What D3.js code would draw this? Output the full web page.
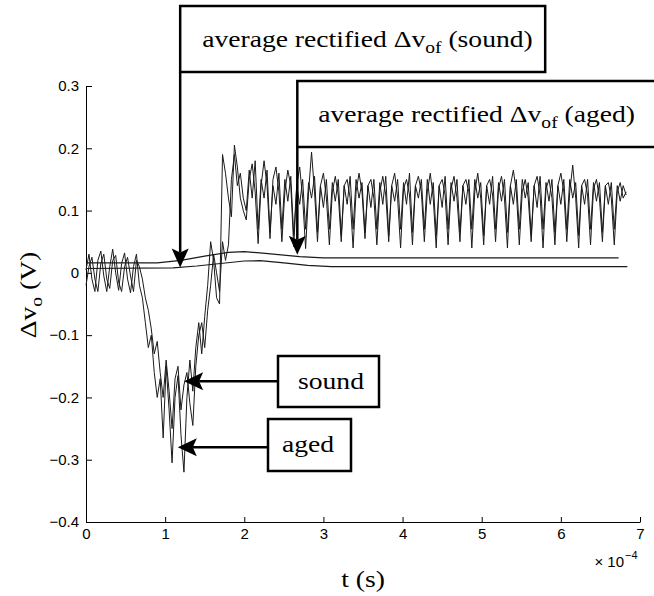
<!DOCTYPE html>
<html>
<head>
<meta charset="utf-8">
<script src="https://cdn.jsdelivr.net/npm/d3@7"></script>
<style>
  body { margin: 0; background: #fff; }
  svg { display: block; }
</style>
</head>
<body>
<div id="root"></div>
<script>
// time axis is in units of 1e-4 s, samples are evenly spaced
const sampleStep = 0.0375;

const xTicks = [0, 1, 2, 3, 4, 5, 6, 7];
const yTicks = [-0.4, -0.3, -0.2, -0.1, 0, 0.1, 0.2, 0.3];

// dv_o of the aged sample (V)
const agedSignal = [
  0.005, 0.03, -0.01, -0.03, 0.02, 0.035, -0.005, -0.03, 0.01, 0.038, 0.0, -0.028,
  0.015, 0.032, -0.01, -0.032, 0.01, 0.03, -0.02,
  -0.04, -0.08, -0.12, -0.10, -0.16, -0.20, -0.17, -0.265, -0.15, -0.22, -0.305, -0.20,
  -0.165, -0.26, -0.32, -0.2, -0.14, -0.19, -0.12, -0.08, -0.13, -0.07, -0.02, 0.05,
  0.02, -0.04, -0.05, 0.19, 0.16, 0.12, 0.09, 0.205, 0.17, 0.12, 0.10,
  0.085, 0.15, 0.175, 0.13,
  0.047, 0.14, 0.18, 0.14,
  0.055, 0.15, 0.17, 0.13,
  0.05, 0.13, 0.165, 0.14,
  0.042, 0.14, 0.17, 0.12,
  0.039, 0.13, 0.194, 0.13,
  0.05, 0.14, 0.16, 0.12,
  0.045, 0.13, 0.155, 0.125,
  0.05, 0.14, 0.15, 0.12,
  0.04, 0.13, 0.16, 0.13,
  0.055, 0.14, 0.15, 0.12,
  0.045, 0.13, 0.155, 0.125,
  0.05, 0.14, 0.16, 0.12,
  0.04, 0.135, 0.15, 0.125,
  0.045, 0.14, 0.155, 0.13,
  0.05, 0.13, 0.16, 0.12,
  0.04, 0.14, 0.15, 0.125,
  0.045, 0.135, 0.155, 0.12,
  0.05, 0.14, 0.15, 0.13,
  0.04, 0.13, 0.16, 0.12,
  0.045, 0.14, 0.15, 0.125,
  0.05, 0.135, 0.155, 0.12,
  0.04, 0.14, 0.165, 0.13,
  0.045, 0.13, 0.15, 0.12,
  0.05, 0.14, 0.155, 0.125,
  0.04, 0.135, 0.15, 0.12,
  0.045, 0.14, 0.16, 0.13,
  0.05, 0.13, 0.173, 0.12,
  0.04, 0.14, 0.15, 0.125,
  0.045, 0.135, 0.15, 0.12,
  0.05, 0.14, 0.145, 0.12,
  0.045, 0.13, 0.145, 0.12,
  0.13
];

// dv_o of the sound sample (V)
const soundSignal = [
  -0.02, 0.01, 0.025, -0.01, -0.03, 0.015, 0.03, -0.01, -0.025, 0.02, 0.028, -0.015,
  -0.03, 0.01, 0.025, -0.005, -0.03, 0.02, 0.01,
  -0.01, -0.04, -0.06, -0.09, -0.13, -0.11, -0.16, -0.20, -0.14, -0.19, -0.25, -0.17,
  -0.15, -0.22, -0.18, -0.16, -0.21, -0.245, -0.15, -0.10, -0.08, -0.12, -0.06, -0.02,
  0.03, 0.0, -0.03, 0.05, 0.02, 0.045, 0.15, 0.19, 0.14, 0.16, 0.12,
  0.10, 0.165, 0.12, 0.18,
  0.07, 0.15, 0.12, 0.165,
  0.065, 0.14, 0.11, 0.16,
  0.07, 0.15, 0.115, 0.155,
  0.06, 0.14, 0.11, 0.15,
  0.07, 0.145, 0.12, 0.155,
  0.065, 0.14, 0.105, 0.15,
  0.07, 0.145, 0.115, 0.15,
  0.06, 0.14, 0.11, 0.155,
  0.07, 0.15, 0.12, 0.145,
  0.065, 0.14, 0.105, 0.15,
  0.07, 0.145, 0.11, 0.155,
  0.06, 0.14, 0.115, 0.15,
  0.07, 0.145, 0.11, 0.16,
  0.065, 0.14, 0.12, 0.15,
  0.07, 0.15, 0.11, 0.145,
  0.06, 0.14, 0.105, 0.155,
  0.07, 0.145, 0.115, 0.15,
  0.065, 0.14, 0.11, 0.15,
  0.07, 0.15, 0.12, 0.145,
  0.06, 0.14, 0.11, 0.155,
  0.07, 0.145, 0.115, 0.15,
  0.065, 0.14, 0.11, 0.15,
  0.07, 0.15, 0.12, 0.145,
  0.06, 0.14, 0.105, 0.155,
  0.07, 0.145, 0.115, 0.15,
  0.065, 0.14, 0.11, 0.15,
  0.07, 0.15, 0.12, 0.145,
  0.06, 0.14, 0.11, 0.15,
  0.07, 0.145, 0.115, 0.145,
  0.065, 0.14, 0.11, 0.145,
  0.07, 0.14, 0.115, 0.14,
  0.125
];

// average rectified dv_of
const agedAvgT = [0, 0.9, 1.2, 1.5, 1.8, 2.0, 2.3, 2.7, 3.0, 6.73];
const agedAvg = [0.016, 0.016, 0.02, 0.027, 0.033, 0.034, 0.031, 0.026, 0.024, 0.024];
const soundAvgT = [0, 1.1, 1.4, 1.7, 2.0, 2.2, 2.5, 2.8, 3.1, 6.84];
const soundAvg = [0.007, 0.008, 0.011, 0.015, 0.019, 0.0195, 0.016, 0.012, 0.010, 0.010];

// where the annotation arrows point (t, value)
const soundAvgTip = [1.19, 0.0085];
const agedAvgTip = [2.67, 0.029];
const soundTip = [1.24, -0.174];
const agedTip = [1.16, -0.28];

const width = 654, height = 596;

const x = d3.scaleLinear().domain([0, 7]).range([86, 640]);
const y = d3.scaleLinear().domain([-0.4, 0.3]).range([522, 86]);

const svg = d3.select("#root").append("svg")
  .attr("width", width)
  .attr("height", height);

const tickFont = "'Liberation Sans', Arial, Helvetica, sans-serif";
const serif = "'Liberation Serif', 'Times New Roman', Times, serif";
const stretch = 1.15;

// axes
svg.append("g")
  .attr("transform", "translate(" + x(0) + ",0)")
  .call(d3.axisLeft(y)
    .tickValues(yTicks)
    .tickSizeInner(-6)
    .tickSizeOuter(0)
    .tickPadding(7)
    .tickFormat(d => d === 0 ? "0" : d3.format(".1f")(d)));

svg.append("g")
  .attr("transform", "translate(0," + y(-0.4) + ")")
  .call(d3.axisBottom(x)
    .tickValues(xTicks)
    .tickSizeInner(-5)
    .tickSizeOuter(0)
    .tickPadding(6)
    .tickFormat(d3.format("d")));

svg.selectAll(".tick text")
  .attr("font-family", tickFont)
  .attr("font-size", 15)
  .attr("fill", "#000");
svg.selectAll(".domain, .tick line").attr("stroke", "#000");

// exponent label
svg.append("text")
  .attr("x", 624)
  .attr("y", 567)
  .attr("text-anchor", "end")
  .attr("font-family", tickFont)
  .attr("font-size", 15)
  .text("\u00d7 10");
svg.append("text")
  .attr("x", 625)
  .attr("y", 559)
  .attr("font-family", tickFont)
  .attr("font-size", 11)
  .text("\u22124");

// signals
const sigLine = d3.line()
  .x((d, i) => x(i * sampleStep))
  .y(d => y(d));

[agedSignal, soundSignal].forEach(s => {
  svg.append("path")
    .attr("d", sigLine(s))
    .attr("fill", "none")
    .attr("stroke", "#1a1a1a")
    .attr("stroke-width", 1);
});

const avgLine = d3.line()
  .x(d => x(d[0]))
  .y(d => y(d[1]));

[[agedAvgT, agedAvg], [soundAvgT, soundAvg]].forEach(([ts, vs]) => {
  svg.append("path")
    .attr("d", avgLine(ts.map((t, i) => [t, vs[i]])))
    .attr("fill", "none")
    .attr("stroke", "#1a1a1a")
    .attr("stroke-width", 1.2);
});

// annotations
function label(g, px, py, parts, anchor) {
  const t = g.append("text")
    .attr("transform", "translate(" + px + "," + py + ") scale(" + stretch + ",1)")
    .attr("font-family", serif)
    .attr("font-size", 24)
    .attr("text-anchor", anchor || "start")
    .attr("fill", "#000");
  parts.forEach(p => {
    const sp = t.append("tspan").text(p.text);
    if (p.sub) sp.attr("font-size", 17).attr("dy", 6);
    if (p.after) sp.attr("dy", -6);
  });
  return t;
}

function box(px, py, w, h) {
  svg.append("rect")
    .attr("x", px).attr("y", py)
    .attr("width", w).attr("height", h)
    .attr("fill", "#fff")
    .attr("stroke", "#000")
    .attr("stroke-width", 2.5);
}

function arrowDown(tx, ty, fromY) {
  svg.append("line")
    .attr("x1", tx).attr("x2", tx)
    .attr("y1", fromY).attr("y2", ty - 15)
    .attr("stroke", "#000").attr("stroke-width", 2.5);
  svg.append("path")
    .attr("d", "M" + tx + "," + ty + "L" + (tx - 8.5) + "," + (ty - 19) +
      "L" + tx + "," + (ty - 15) + "L" + (tx + 8.5) + "," + (ty - 19) + "Z")
    .attr("fill", "#000");
}

function arrowLeft(tx, ty, fromX) {
  svg.append("line")
    .attr("x1", fromX).attr("x2", tx + 15)
    .attr("y1", ty).attr("y2", ty)
    .attr("stroke", "#000").attr("stroke-width", 2.5);
  svg.append("path")
    .attr("d", "M" + tx + "," + ty + "L" + (tx + 19) + "," + (ty - 9) +
      "L" + (tx + 15) + "," + ty + "L" + (tx + 19) + "," + (ty + 9) + "Z")
    .attr("fill", "#000");
}

const avgParts = (name) => [
  { text: "average rectified \u0394v" },
  { text: "of", sub: true },
  { text: " (" + name + ")", after: true }
];

// average rectified (sound)
const s1x = x(soundAvgTip[0]);
box(s1x, 6, 365, 66);
arrowDown(s1x, y(soundAvgTip[1]), 72);
label(svg, s1x + 22, 47, avgParts("sound"));

// average rectified (aged)
const a1x = x(agedAvgTip[0]);
box(a1x, 81, 380, 66);
arrowDown(a1x, y(agedAvgTip[1]), 147);
label(svg, a1x + 21, 122, avgParts("aged"));

// sound / aged boxes
box(278, 356, 101, 51);
arrowLeft(x(soundTip[0]), y(soundTip[1]), 278);
label(svg, 298, 389, [{ text: "sound" }]);

box(268, 419, 83, 52);
arrowLeft(x(agedTip[0]), y(agedTip[1]), 268);
label(svg, 282, 452, [{ text: "aged" }]);

// axis titles
label(svg, (x(0) + x(7)) / 2, 587, [{ text: "t (s)" }], "middle");

svg.append("text")
  .attr("transform", "translate(36,295) rotate(-90) scale(" + stretch + ",1)")
  .attr("font-family", serif)
  .attr("font-size", 24)
  .attr("text-anchor", "middle")
  .call(t => {
    t.append("tspan").text("\u0394v");
    t.append("tspan").text("o").attr("font-size", 17).attr("dy", 6);
    t.append("tspan").text(" (V)").attr("dy", -6);
  });
</script>
</body>
</html>
